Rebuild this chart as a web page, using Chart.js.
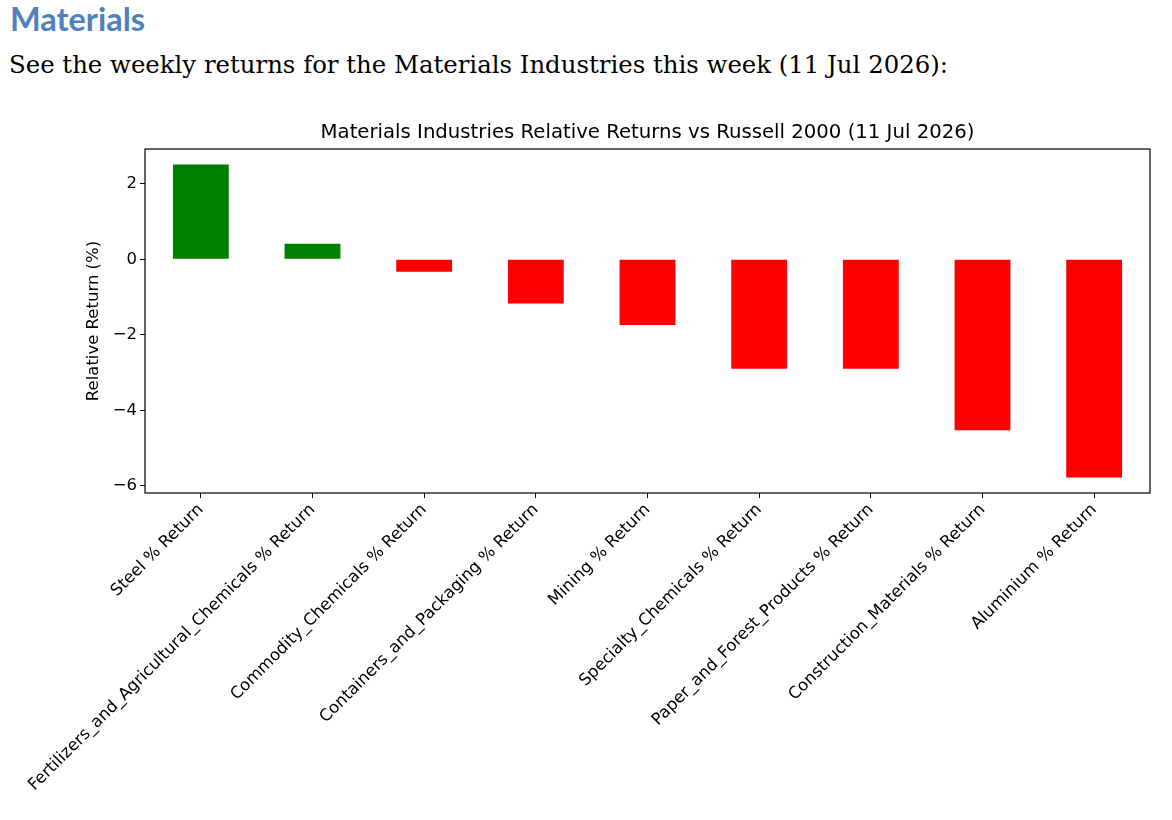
<!DOCTYPE html>
<html>
<head>
<meta charset="utf-8">
<script src="https://cdn.jsdelivr.net/npm/chart.js@4.4.1/dist/chart.umd.min.js"></script>
<style>
    body { margin: 0; background: #fff; width: 1172px; height: 820px; overflow: hidden; position: relative; }
    #heading { position: absolute; left: 10px; top: 0px; font-family: Lato, "Open Sans", sans-serif; font-weight: bold; font-size: 32.5px; line-height: 38px; color: #4f81bd; }
    #intro { position: absolute; left: 9px; top: 50px; font-family: "DejaVu Serif", serif; font-size: 24.4px; line-height: 30px; color: #000; }
    #chartBox { position: absolute; left: 0; top: 100px; width: 1172px; height: 720px; }
</style>
</head>
<body>
<div id="heading">Materials</div>
<div id="intro">See the weekly returns for the Materials Industries this week (11 Jul 2026):</div>
<div id="chartBox"><canvas id="returnsChart" width="1172" height="720"></canvas></div>

<script>
// industries, sorted by relative return
var industries = [
    'Steel % Return',
    'Fertilizers_and_Agricultural_Chemicals % Return',
    'Commodity_Chemicals % Return',
    'Containers_and_Packaging % Return',
    'Mining % Return',
    'Specialty_Chemicals % Return',
    'Paper_and_Forest_Products % Return',
    'Construction_Materials % Return',
    'Aluminium % Return'
];
var relReturns = [2.51, 0.41, -0.33, -1.17, -1.74, -2.90, -2.90, -4.53, -5.78];
var yTicks = [-6, -4, -2, 0, 2];
var chartTitle = 'Materials Industries Relative Returns vs Russell 2000 (11 Jul 2026)';

var barColors = [];
for (var i = 0; i < relReturns.length; i++) {
    barColors.push(relReturns[i] >= 0 ? '#008000' : '#ff0000');
}

var mplFont = "'DejaVu Sans', sans-serif";
var tickFont = { family: mplFont, size: 16.5 };

// full box round the plot and the title centred over the plot, like matplotlib
var frameBox = {
    id: 'frameBox',
    afterDraw: function (chart) {
        var a = chart.chartArea, ctx = chart.ctx;
        ctx.save();
        ctx.strokeStyle = '#000';
        ctx.lineWidth = 1.2;
        ctx.strokeRect(a.left, a.top, a.right - a.left, a.bottom - a.top);
        ctx.fillStyle = '#000';
        ctx.font = "19.7px 'DejaVu Sans', sans-serif";
        ctx.textAlign = 'center';
        ctx.textBaseline = 'middle';
        ctx.fillText(chartTitle, (a.left + a.right) / 2, a.top - 16);
        ctx.restore();
    }
};

new Chart(document.getElementById('returnsChart').getContext('2d'), {
    type: 'bar',
    data: {
        labels: industries,
        datasets: [{ data: relReturns, backgroundColor: barColors, borderWidth: 0, barPercentage: 0.5, categoryPercentage: 1.0 }]
    },
    options: {
        responsive: false,
        animation: false,
        layout: { padding: { left: 0, right: 22, top: 49, bottom: 0 } },
        plugins: {
            legend: { display: false },
            tooltip: { enabled: false },
            title: { display: false }
        },
        scales: {
            x: {
                offset: true,
                border: { display: false },
                grid: { offset: false, drawOnChartArea: false, drawTicks: true, tickLength: 5, color: '#000', lineWidth: 1 },
                ticks: { autoSkip: false, maxRotation: 45, minRotation: 45, color: '#000', font: tickFont, padding: 2 },
                afterFit: function (scale) {
                    scale.height = 327;
                    scale.paddingLeft = 0;
                    scale.paddingRight = 0;
                }
            },
            y: {
                min: -6.19,
                max: 2.92,
                border: { display: false },
                grid: { drawOnChartArea: false, drawTicks: true, tickLength: 5, color: '#000', lineWidth: 1 },
                ticks: {
                    stepSize: 2,
                    includeBounds: false,
                    color: '#000',
                    font: tickFont,
                    padding: 3,
                    callback: function (v) {
                        if (yTicks.indexOf(v) < 0) return '';
                        return String(v).replace('-', '\u2212');
                    }
                },
                title: {
                    display: true,
                    text: 'Relative Return (%)',
                    color: '#000',
                    font: { family: mplFont, size: 16.5 },
                    padding: { top: 84, bottom: 0 }
                },
                afterFit: function (scale) {
                    scale.width = 145;
                    scale.paddingTop = 0;
                    scale.paddingBottom = 0;
                }
            }
        }
    },
    plugins: [frameBox]
});
</script>
</body>
</html>
